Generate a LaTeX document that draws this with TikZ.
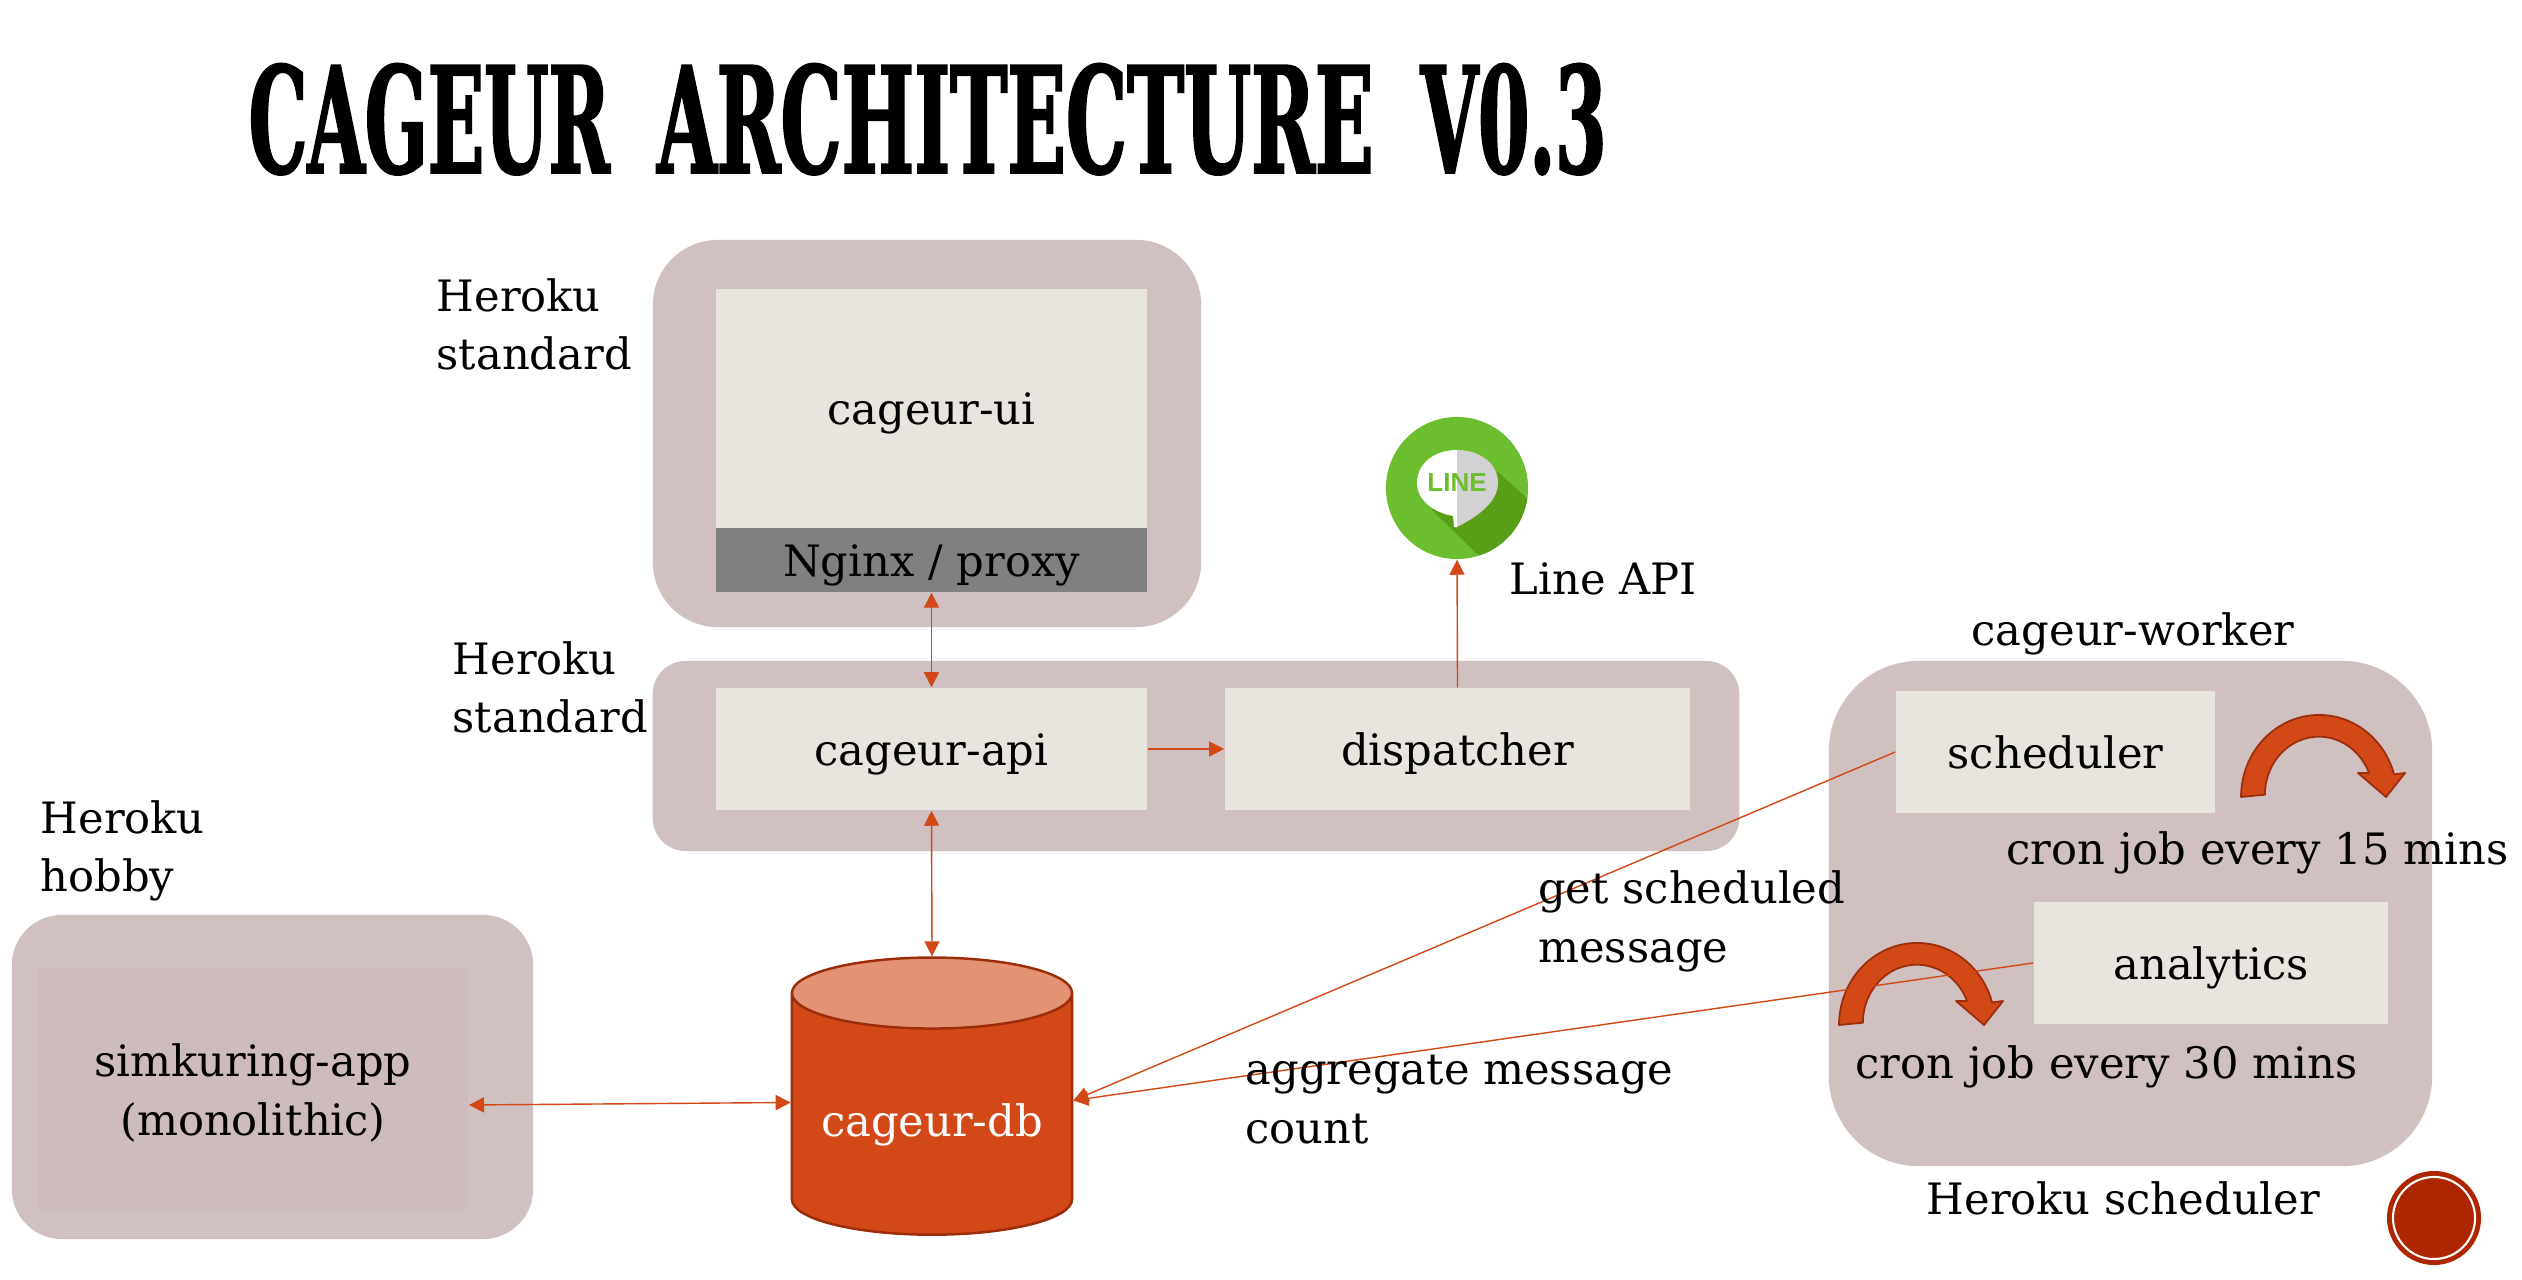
\documentclass[tikz,border=0pt]{standalone}
\usepackage{fontspec}
\setmainfont{DejaVu Serif}
\newfontfamily\titlefont[FakeStretch=0.5,FakeBold=1.2]{DejaVu Serif Bold}
\newfontfamily\titlewide[FakeStretch=0.52,FakeBold=1.2]{DejaVu Serif Bold}
\newfontfamily\logofont{Liberation Sans Bold}
\usetikzlibrary{arrows.meta,shapes.geometric}
\definecolor{groupcol}{HTML}{D0C0C0}
\definecolor{hobbycol}{HTML}{CEBBBB}
\definecolor{boxcol}{HTML}{E8E4DE}
\definecolor{proxycol}{HTML}{808080}
\definecolor{linecol}{HTML}{D34817}
\definecolor{darkcol}{HTML}{9B2D0A}
\definecolor{topcol}{HTML}{E49274}
\definecolor{badgecol}{HTML}{AE2600}
\definecolor{greencol}{HTML}{6CBE2E}
\definecolor{shadecol}{HTML}{5A9E18}
\tikzset{
  every node/.style={font=\fontsize{12.3}{16.6}\selectfont},
  groupbox/.style={fill=groupcol,inner sep=0pt},
  appbox/.style={fill=boxcol,inner sep=0pt,text height=0.44cm,text depth=0.12cm},
  lbl/.style={inner sep=0pt,anchor=base west,align=left},
  conn/.style={draw=linecol,line width=0.4pt,-{Triangle[length=0.15cm,width=0.15cm]}},
  twoway/.style={conn,{Triangle[length=0.15cm,width=0.15cm]}-{Triangle[length=0.15cm,width=0.15cm]}},
  cronarrow/.style={fill=linecol,draw=darkcol,line width=0.5pt,line join=round},
}
\begin{document}
\begin{tikzpicture}[x=0.01cm,y=-0.01cm]
  \useasboundingbox (0,0) rectangle (2522,1280);
  \node[inner sep=0pt,anchor=base west,font=\titlefont\fontsize{42}{42}\selectfont] (title) at (248,173) {CAGEUR\hspace{0.32em}{\titlewide ARCHITECTURE}\hspace{0.32em}V0.3};

  % groups
  \node[groupbox,rounded corners=0.65cm,minimum width=5.48cm,minimum height=3.87cm] (uigroup) at (927,433.5) {};
  \node[groupbox,rounded corners=0.33cm,minimum width=10.86cm,minimum height=1.90cm] (apigroup) at (1196,756) {};
  \node[groupbox,rounded corners=0.90cm,minimum width=6.03cm,minimum height=5.05cm] (workergroup) at (2130.5,913.5) {};
  \node[groupbox,rounded corners=0.50cm,minimum width=5.21cm,minimum height=3.24cm] (hobbygroup) at (272.5,1077) {};

  % boxes
  \node[appbox,minimum width=4.31cm,minimum height=2.39cm] (ui) at (931.5,408.5) {cageur-ui};
  \node[appbox,fill=proxycol,minimum width=4.31cm,minimum height=0.64cm] (nginx) at (931.5,560) {Nginx / proxy};
  \node[appbox,minimum width=4.31cm,minimum height=1.22cm] (api) at (931.5,749) {cageur-api};
  \node[appbox,minimum width=4.65cm,minimum height=1.22cm] (dispatcher) at (1457.5,749) {dispatcher};
  \node[appbox,minimum width=3.19cm,minimum height=1.22cm] (scheduler) at (2055.5,752) {scheduler};
  \node[appbox,minimum width=3.54cm,minimum height=1.22cm] (analytics) at (2211,963) {analytics};
  \node[fill=hobbycol,inner sep=0pt,align=center,minimum width=4.30cm,minimum height=2.42cm] (simkuring) at (253,1089) {\rule{0pt}{0.95em}simkuring-app\\(monolithic)};

  % database
  \node[cylinder,shape border rotate=90,aspect=0.32,draw=darkcol,line width=0.7pt,cylinder uses custom fill,
    cylinder body fill=linecol,cylinder end fill=topcol,inner sep=0pt,text=white,text height=0.55cm,text depth=0.12cm,
    minimum width=2.80cm,minimum height=2.77cm] (db) at (932,1114.5) {cageur-db};

  % line logo
  \node[circle,fill=greencol,inner sep=0pt,minimum size=1.42cm] (logo) at (1457,488) {};
  \begin{scope}
    \clip (1457,488) circle[radius=0.71cm];
    \fill[shadecol] (1432,510) -- (1478,555) -- (1540,560) -- (1540,510) -- (1498,472) -- cycle;
  \end{scope}
  \fill[white] (1457,450) .. controls (1435,450) and (1417,463) .. (1417,483)
    .. controls (1417,501) and (1435,513) .. (1453,516) -- (1454,527) .. controls (1456,528) and (1457,527) .. (1457,527) -- cycle;
  \fill[gray!35] (1457,450) .. controls (1479,450) and (1498,463) .. (1498,483)
    .. controls (1498,503) and (1475,518) .. (1457,527) -- cycle;
  \node[text=greencol,inner sep=0pt,font=\logofont\fontsize{7.4}{8}\selectfont] (logotext) at (1457,483) {LINE};

  % cron arrows
  \foreach \cronx/\crony in {2241/797,1839/1025}
    \draw[cronarrow,shift={(\cronx,\crony)}] (0,0) arc[start angle=180,end angle=16,x radius=0.78cm,y radius=0.82cm]
      -- (164,-24) -- (145,0) -- (117,-24) -- (128,-24)
      arc[start angle=22,end angle=180,x radius=0.54cm,y radius=0.58cm] -- cycle;

  % badge
  \node[circle,fill=badgecol,inner sep=0pt,minimum size=0.94cm] (badge) at (2434,1218) {};
  \node[circle,draw=white,line width=0.6pt,inner sep=0pt,minimum size=0.82cm] (badgering) at (2434,1218) {};

  % connectors
  \coordinate (simkuringport) at (469,1105);
  \draw[twoway] (nginx.south) -- (api.north);
  \draw[twoway] (api.south) -- (db.north);
  \draw[twoway] (simkuringport) -- ([yshift=0.12cm]db.west);
  \draw[conn] (api.east) -- (dispatcher.west);
  \draw[conn] (dispatcher.north) -- (logo.south);
  \draw[conn] (scheduler.west) -- ([yshift=0.14cm]db.east);
  \draw[conn] (analytics.west) -- ([yshift=0.14cm]db.east);

  % labels
  \node[lbl] (uihost) at (436,370) {Heroku\\standard};
  \node[lbl] (apihost) at (452,733) {Heroku\\standard};
  \node[lbl] (hobbyhost) at (40,892) {Heroku\\hobby};
  \node[lbl] (lineapi) at (1509,595) {Line API};
  \node[lbl] (workername) at (1971,645.5) {cageur-worker};
  \node[lbl] (cron15) at (2006,864.5) {cron job every 15 mins};
  \node[lbl] (cron30) at (1855,1078) {cron job every 30 mins};
  \node[lbl] (workerhost) at (1926,1214) {Heroku scheduler};
  \node[lbl] (getlabel) at (1537.5,962) {get scheduled\\message};
  \node[lbl] (countlabel) at (1245,1143) {aggregate message\\count};
\end{tikzpicture}
\end{document}
